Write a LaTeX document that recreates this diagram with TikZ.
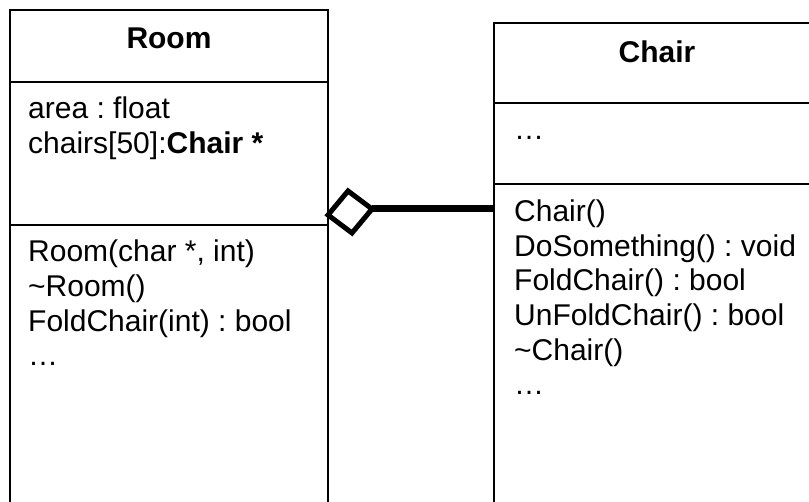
\documentclass[tikz,border=0pt]{standalone}
\usepackage{fontspec}
\setmainfont{Liberation Sans}
\frenchspacing
\begin{document}
\begin{tikzpicture}[x=1bp,y=-1bp,line cap=butt,
    member/.style={anchor=base west,inner sep=0pt,font=\fontsize{30bp}{34.5bp}\selectfont},
    classname/.style={anchor=base,inner sep=0pt,font=\fontsize{30bp}{34.5bp}\selectfont\bfseries},
    frame/.style={line width=2bp}]
  \useasboundingbox (0,0) rectangle (809,502);
  % Room class
  \draw[frame] (10,502) -- (10,10) -- (328,10) -- (328,502);
  \draw[frame] (10,82) -- (328,82);
  \draw[frame] (10,225) -- (328,225);
  \node[classname] (roomname) at (169,49) {Room};
  \node[member] (roomattr1) at (28,119) {area : float};
  \node[member] (roomattr2) at (28,153.5) {chairs[50]:\textbf{Chair *}};
  \foreach \t [count=\i] in {{Room(char *, int)},\textasciitilde Room(),{FoldChair(int) : bool},…}
    \node[member] (roomop\i) at (28,227.5+34.5*\i) {\t};
  % Chair class
  \draw[frame] (820,23) -- (494,23) -- (494,502);
  \draw[frame] (494,103) -- (820,103);
  \draw[frame] (494,184) -- (820,184);
  \node[classname] (chairname) at (657,63) {Chair};
  \node[member] (chairattr1) at (514,140) {…};
  \foreach \t [count=\i] in {Chair(),{DoSomething() : void},{FoldChair() : bool},{UnFoldChair() : bool},\textasciitilde Chair(),…}
    \node[member] (chairop\i) at (514,187.5+34.5*\i) {\t};
  % aggregation
  \coordinate (aggL) at (328,215);
  \coordinate (aggT) at (348,191);
  \coordinate (aggR) at (372,209);
  \coordinate (aggB) at (352,233);
  \coordinate (chairL) at (494,209);
  \draw[line width=5bp,line join=miter] (aggL) -- (aggT) -- (aggR) -- (aggB) -- cycle;
  \draw[line width=7bp] (aggR) -- (chairL);
\end{tikzpicture}
\end{document}
